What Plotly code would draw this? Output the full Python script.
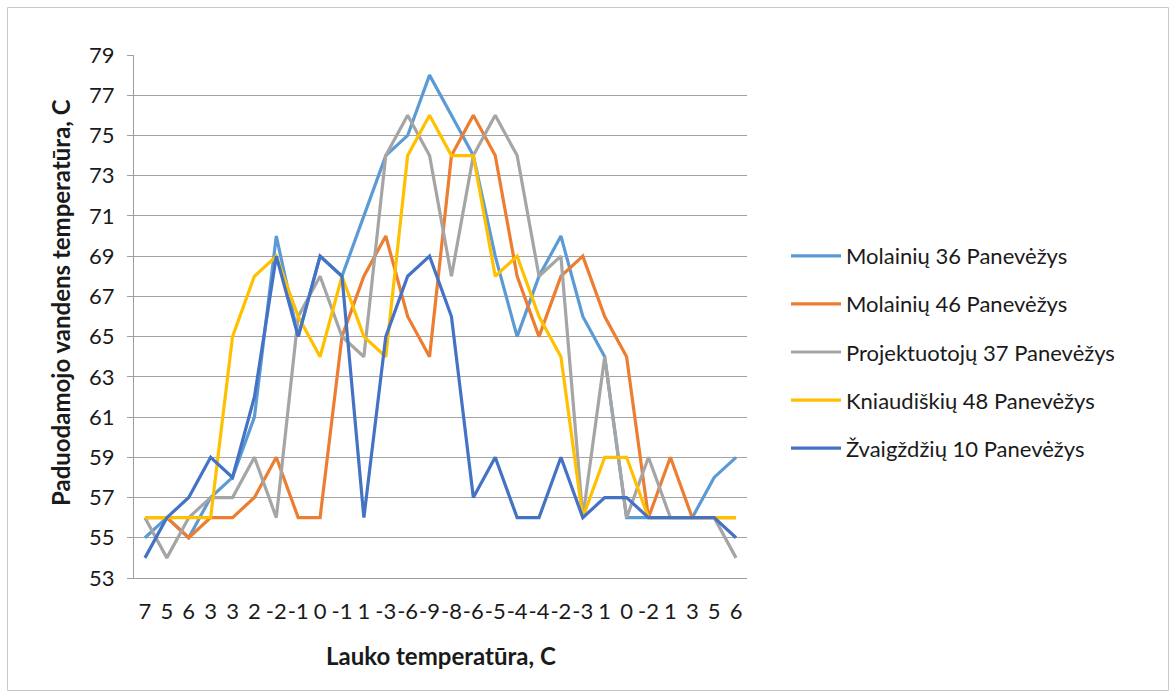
import plotly.graph_objects as go

x_labels = ["7", "5", "6", "3", "3", "2", "-2", "-1", "0", "-1", "1", "-3", "-6", "-9",
            "-8", "-6", "-5", "-4", "-4", "-2", "-3", "1", "0", "-2", "1", "3", "5", "6"]

molainiu36 = [55, 56, 55, 57, 58, 61, 70, 65, 69, 68, 71, 74, 75, 78, 76, 74, 69, 65, 68, 70,
              66, 64, 56, 56, 56, 56, 58, 59]
molainiu46 = [56, 56, 55, 56, 56, 57, 59, 56, 56, 65, 68, 70, 66, 64, 74, 76, 74, 68, 65, 68,
              69, 66, 64, 56, 59, 56, 56, 56]
projektuotoju37 = [56, 54, 56, 57, 57, 59, 56, 66, 68, 65, 64, 74, 76, 74, 68, 74, 76, 74, 68, 69,
                   56, 64, 56, 59, 56, 56, 56, 54]
kniaudiskiu48 = [56, 56, 56, 56, 65, 68, 69, 66, 64, 68, 65, 64, 74, 76, 74, 74, 68, 69, 66, 64,
                 56, 59, 59, 56, 56, 56, 56, 56]
zvaigzdziu10 = [54, 56, 57, 59, 58, 62, 69, 65, 69, 68, 56, 65, 68, 69, 66, 57, 59, 56, 56, 59,
                56, 57, 57, 56, 56, 56, 56, 55]

series_names = ["Molainių 36 Panevėžys", "Molainių 46 Panevėžys", "Projektuotojų 37 Panevėžys",
                "Kniaudiškių 48 Panevėžys", "Žvaigždžių 10 Panevėžys"]
series_values = [molainiu36, molainiu46, projektuotoju37, kniaudiskiu48, zvaigzdziu10]
colors = ["#5B9BD5", "#ED7D31", "#A5A5A5", "#FFC000", "#4472C4"]

y_ticks = list(range(53, 80, 2))

FONT = "Lato"
TXT = "#1a1a1a"

fig = go.Figure()
idx = list(range(len(x_labels)))
for name, vals, col in zip(series_names, series_values, colors):
    fig.add_trace(go.Scatter(
        x=idx, y=vals, mode="lines", name=name, legendgroup=name,
        line=dict(color=col, width=3.2),
    ))

W, H = 1176, 697
L, R, T, B = 134, 747, 55, 578

fig.update_layout(
    width=W, height=H,
    margin=dict(l=L, r=W - R, t=T, b=H - B, autoexpand=False),
    paper_bgcolor="white", plot_bgcolor="white",
    font=dict(family=FONT, size=22, color=TXT),
    showlegend=True,
    legend=dict(
        xref="container", yref="container",
        x=786 / W, y=1 - 235 / H, xanchor="left", yanchor="top",
        font=dict(family=FONT, size=22, color=TXT),
        tracegroupgap=16.5, itemwidth=50,
        bgcolor="rgba(0,0,0,0)",
    ),
    xaxis=dict(
        tickmode="array", tickvals=idx, ticktext=x_labels,
        range=[-0.5, len(x_labels) - 0.5],
        showgrid=False, zeroline=False,
        showline=True, linecolor="#9e9e9e", linewidth=1,
        ticks="", tickfont=dict(family=FONT, size=22, color=TXT),
        ticklabelstandoff=14, tickangle=0,
    ),
    yaxis=dict(
        range=[53, 79], tickmode="array", tickvals=y_ticks,
        showgrid=True, gridcolor="#a3a3a3", gridwidth=1,
        zeroline=False,
        showline=True, linecolor="#9e9e9e", linewidth=1,
        ticks="outside", ticklen=6, tickcolor="#9e9e9e",
        tickfont=dict(family=FONT, size=22, color=TXT),
        ticklabelstandoff=8,
    ),
    annotations=[
        dict(text="<b>Paduodamojo vandens temperatūra, C</b>", textangle=-90,
             xref="paper", yref="paper", x=(60 - L) / (R - L), y=(B - 303) / (B - T),
             xanchor="center", yanchor="middle", showarrow=False,
             font=dict(family=FONT, size=24, color=TXT)),
        dict(text="<b>Lauko temperatūra, C</b>",
             xref="paper", yref="paper", x=(441 - L) / (R - L), y=(B - 655) / (B - T),
             xanchor="center", yanchor="middle", showarrow=False,
             font=dict(family=FONT, size=24, color=TXT)),
    ],
    shapes=[
        dict(type="rect", xref="paper", yref="paper",
             x0=(7.5 - L) / (R - L), x1=(1168.5 - L) / (R - L),
             y0=(B - 690.5) / (B - T), y1=(B - 7.5) / (B - T),
             line=dict(color="#c8c8c8", width=1), fillcolor="rgba(0,0,0,0)", layer="below"),
    ],
)

fig.write_html("out.html")
